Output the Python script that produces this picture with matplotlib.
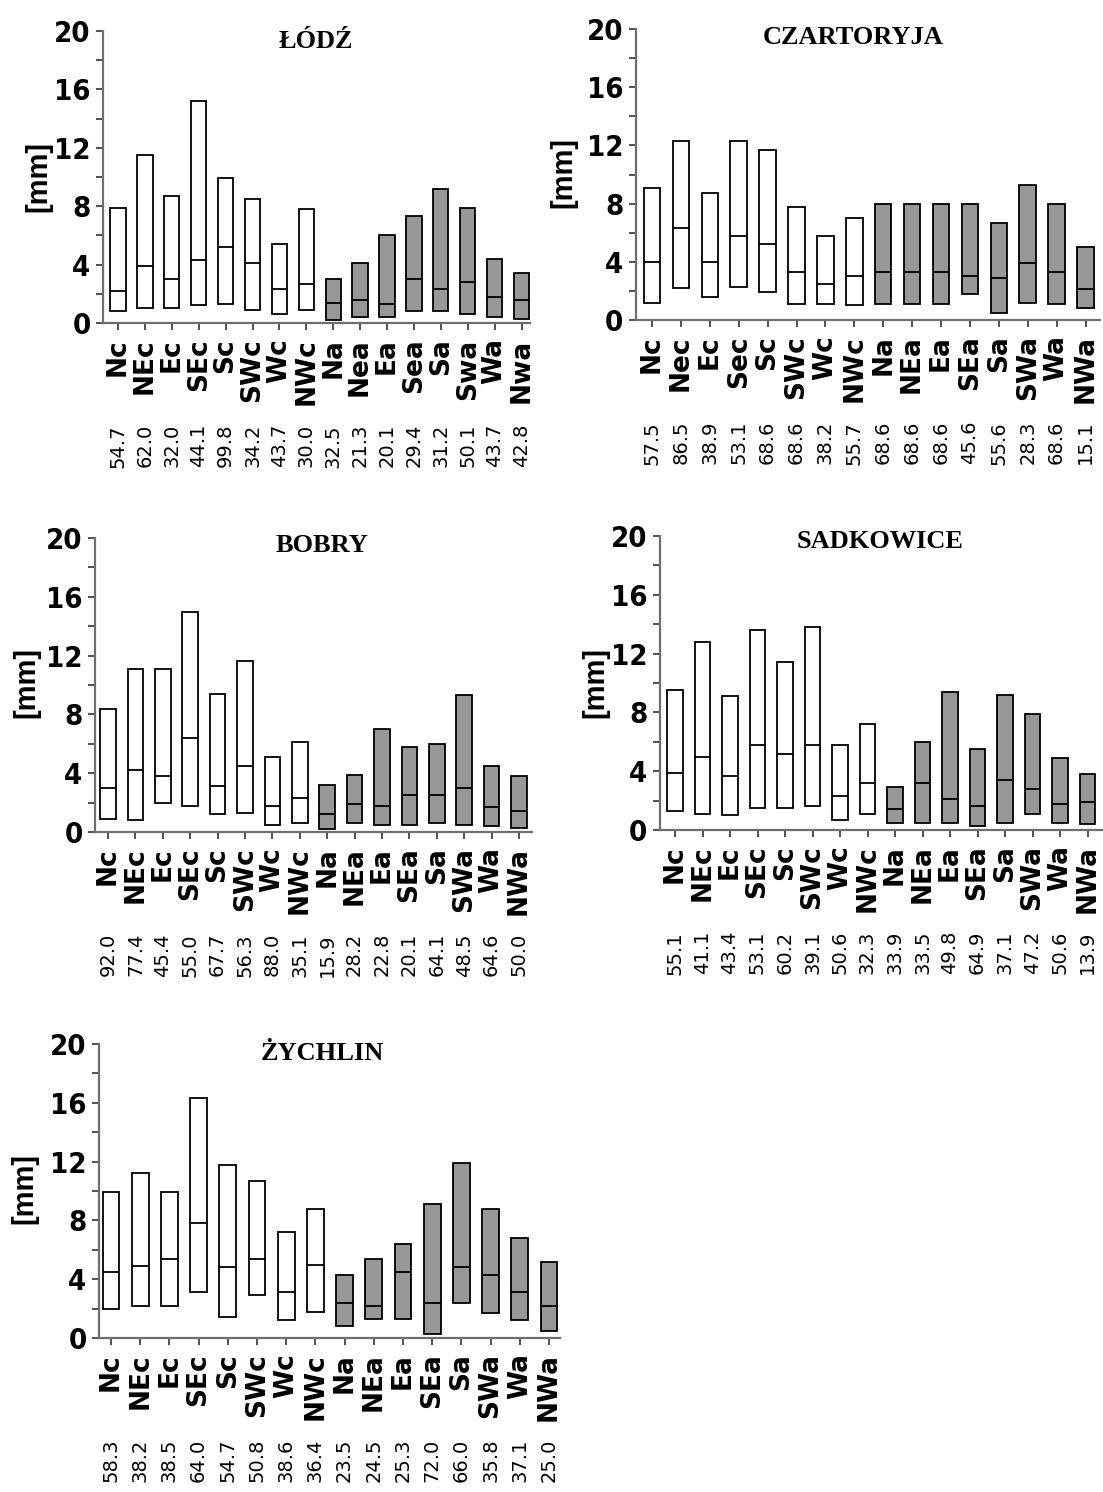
import matplotlib
matplotlib.use('Agg')
import matplotlib.pyplot as plt
from matplotlib import font_manager as fm

# --- data (min / median / max in mm, share in %) ---
names = ['ŁÓDŹ', 'CZARTORYJA', 'BOBRY', 'SADKOWICE', 'ŻYCHLIN']

labels_lodz = ['Nc', 'NEc', 'Ec', 'SEc', 'Sc', 'SWc', 'Wc', 'NWc',
               'Na', 'Nea', 'Ea', 'Sea', 'Sa', 'Swa', 'Wa', 'Nwa']
labels_czart = ['Nc', 'Nec', 'Ec', 'Sec', 'Sc', 'SWc', 'Wc', 'NWc',
                'Na', 'NEa', 'Ea', 'SEa', 'Sa', 'SWa', 'Wa', 'NWa']
labels_std = ['Nc', 'NEc', 'Ec', 'SEc', 'Sc', 'SWc', 'Wc', 'NWc',
              'Na', 'NEa', 'Ea', 'SEa', 'Sa', 'SWa', 'Wa', 'NWa']

share_lodz = [54.7, 62.0, 32.0, 44.1, 99.8, 34.2, 43.7, 30.0, 32.5, 21.3, 20.1, 29.4, 31.2, 50.1, 43.7, 42.8]
share_czart = [57.5, 86.5, 38.9, 53.1, 68.6, 68.6, 38.2, 55.7, 68.6, 68.6, 68.6, 45.6, 55.6, 28.3, 68.6, 15.1]
share_bobry = [92.0, 77.4, 45.4, 55.0, 67.7, 56.3, 88.0, 35.1, 15.9, 28.2, 22.8, 20.1, 64.1, 48.5, 64.6, 50.0]
share_sadk = [55.1, 41.1, 43.4, 53.1, 60.2, 39.1, 50.6, 32.3, 33.9, 33.5, 49.8, 64.9, 37.1, 47.2, 50.6, 13.9]
share_zych = [58.3, 38.2, 38.5, 64.0, 54.7, 50.8, 38.6, 36.4, 23.5, 24.5, 25.3, 72.0, 66.0, 35.8, 37.1, 25.0]

max_lodz = [7.9, 11.5, 8.7, 15.2, 9.9, 8.5, 5.4, 7.8, 3.0, 4.1, 6.0, 7.3, 9.2, 7.9, 4.4, 3.4]
med_lodz = [2.2, 3.9, 3.0, 4.3, 5.2, 4.1, 2.3, 2.7, 1.4, 1.6, 1.3, 3.0, 2.3, 2.8, 1.8, 1.6]
min_lodz = [0.8, 1.0, 1.0, 1.2, 1.3, 0.9, 0.6, 0.9, 0.2, 0.4, 0.4, 0.8, 0.8, 0.6, 0.4, 0.3]

max_czart = [9.1, 12.3, 8.7, 12.3, 11.7, 7.8, 5.8, 7.0, 8.0, 8.0, 8.0, 8.0, 6.7, 9.3, 8.0, 5.0]
med_czart = [4.0, 6.3, 4.0, 5.8, 5.2, 3.3, 2.5, 3.0, 3.3, 3.3, 3.3, 3.0, 2.9, 3.9, 3.3, 2.1]
min_czart = [1.2, 2.2, 1.6, 2.3, 1.9, 1.1, 1.1, 1.0, 1.1, 1.1, 1.1, 1.8, 0.5, 1.2, 1.1, 0.8]

max_bobry = [8.4, 11.1, 11.1, 15.0, 9.4, 11.6, 5.1, 6.1, 3.2, 3.9, 7.0, 5.8, 6.0, 9.3, 4.5, 3.8]
med_bobry = [3.0, 4.2, 3.8, 6.4, 3.1, 4.5, 1.8, 2.3, 1.2, 1.9, 1.8, 2.5, 2.5, 3.0, 1.7, 1.4]
min_bobry = [0.9, 0.8, 2.0, 1.8, 1.2, 1.3, 0.5, 0.6, 0.2, 0.6, 0.5, 0.5, 0.6, 0.5, 0.4, 0.3]

max_sadk = [9.5, 12.8, 9.1, 13.6, 11.4, 13.8, 5.8, 7.2, 2.9, 6.0, 9.4, 5.5, 9.2, 7.9, 4.9, 3.8]
med_sadk = [3.9, 5.0, 3.7, 5.8, 5.2, 5.8, 2.3, 3.2, 1.4, 3.2, 2.1, 1.6, 3.4, 2.8, 1.8, 1.9]
min_sadk = [1.3, 1.1, 1.0, 1.5, 1.5, 1.6, 0.7, 1.1, 0.5, 0.5, 0.5, 0.3, 0.5, 1.1, 0.5, 0.4]

max_zych = [9.9, 11.2, 9.9, 16.3, 11.8, 10.7, 7.2, 8.8, 4.3, 5.4, 6.4, 9.1, 11.9, 8.8, 6.8, 5.2]
med_zych = [4.5, 4.9, 5.4, 7.8, 4.8, 5.4, 3.1, 5.0, 2.4, 2.2, 4.5, 2.4, 4.8, 4.3, 3.1, 2.2]
min_zych = [2.0, 2.2, 2.2, 3.1, 1.4, 2.9, 1.2, 1.8, 0.8, 1.3, 1.3, 0.3, 2.4, 1.7, 1.2, 0.5]

panels = [
    (names[0], labels_lodz, share_lodz, min_lodz, med_lodz, max_lodz),
    (names[1], labels_czart, share_czart, min_czart, med_czart, max_czart),
    (names[2], labels_std, share_bobry, min_bobry, med_bobry, max_bobry),
    (names[3], labels_std, share_sadk, min_sadk, med_sadk, max_sadk),
    (names[4], labels_std, share_zych, min_zych, med_zych, max_zych),
]

# layout in pixels: axis left, axis right, y=20, y=0, first tick x, tick step,
# title centre (x, y), ylabel centre (x, y)
layout = [
    (103, 530, 31, 323, 118, 26.9, (316, 42), (38, 176)),
    (636, 1100, 29, 320, 652, 28.9, (853, 38), (563, 172)),
    (95, 532, 538, 832, 108, 27.4, (322, 546), (26, 683)),
    (660, 1103, 536, 830, 675, 27.5, (880, 542), (595, 682)),
    (99, 560, 1044, 1338, 111, 29.2, (322, 1054), (24, 1189)),
]

W, H = 1103, 1492

# look for a narrow / condensed bold face for the y tick numbers
tick_fp = fm.FontProperties(family='Liberation Sans', weight='bold', size=19)
for f in fm.fontManager.ttflist:
    fn = f.fname.lower()
    if ('narrow' in fn or 'condensed' in fn) and 'bold' in fn and 'oblique' not in fn and 'italic' not in fn:
        tick_fp = fm.FontProperties(fname=f.fname, size=21)
        break

plt.rcParams['font.family'] = ['DejaVu Sans']
fig = plt.figure(figsize=(W / 100, H / 100), dpi=100)

for (name, labs, share, lo, med, hi), lay in zip(panels, layout):
    left, right, top, bottom, x0, dx, tpos, ypos = lay
    ax = fig.add_axes([left / W, 1 - bottom / H, (right - left) / W, (bottom - top) / H])
    x = list(range(len(labs)))
    colors = ['white' if l.endswith('c') else '#979797' for l in labs]
    heights = [h - l for h, l in zip(hi, lo)]
    ax.bar(x, heights, bottom=lo, width=0.57, color=colors,
           edgecolor='black', linewidth=1.3, zorder=2)
    ax.hlines(med, [i - 0.285 for i in x], [i + 0.285 for i in x],
              color='black', linewidth=1.3, zorder=3)

    ax.set_xlim((left - x0) / dx, (right - x0) / dx)
    ax.set_ylim(0, 20)
    ax.set_yticks([0, 4, 8, 12, 16, 20])
    ax.set_yticks([2, 6, 10, 14, 18], minor=True)
    ax.set_yticklabels(['0', '4', '8', '12', '16', '20'], fontproperties=tick_fp)
    ax.set_xticks(x)
    ax.set_xticklabels(labs, rotation=90, fontweight='bold', fontsize=19)
    ax.tick_params(axis='both', which='both', direction='out', length=5,
                   width=1.2, color='#333333')
    ax.tick_params(axis='x', pad=6)
    ax.tick_params(axis='y', pad=4)

    for s in ['top', 'right']:
        ax.spines[s].set_visible(False)
    for s in ['left', 'bottom']:
        ax.spines[s].set_color('#6e6e6e')
        ax.spines[s].set_linewidth(1.6)
    ax.patch.set_alpha(0)

    for i, v in zip(x, share):
        ax.annotate('%.1f' % v, xy=(i, 0), xycoords=('data', 'axes fraction'),
                    xytext=(0, -101), textcoords='offset pixels',
                    rotation=90, ha='center', va='top', fontsize=14)

    fig.text(tpos[0] / W, 1 - tpos[1] / H, name, ha='center', va='center',
             fontfamily='Liberation Serif', fontweight='bold', fontsize=19)
    fig.text(ypos[0] / W, 1 - ypos[1] / H, '[mm]', ha='center', va='center',
             rotation=90, fontfamily='Liberation Sans', fontweight='bold', fontsize=21)

fig.savefig('out.png', dpi=100)
